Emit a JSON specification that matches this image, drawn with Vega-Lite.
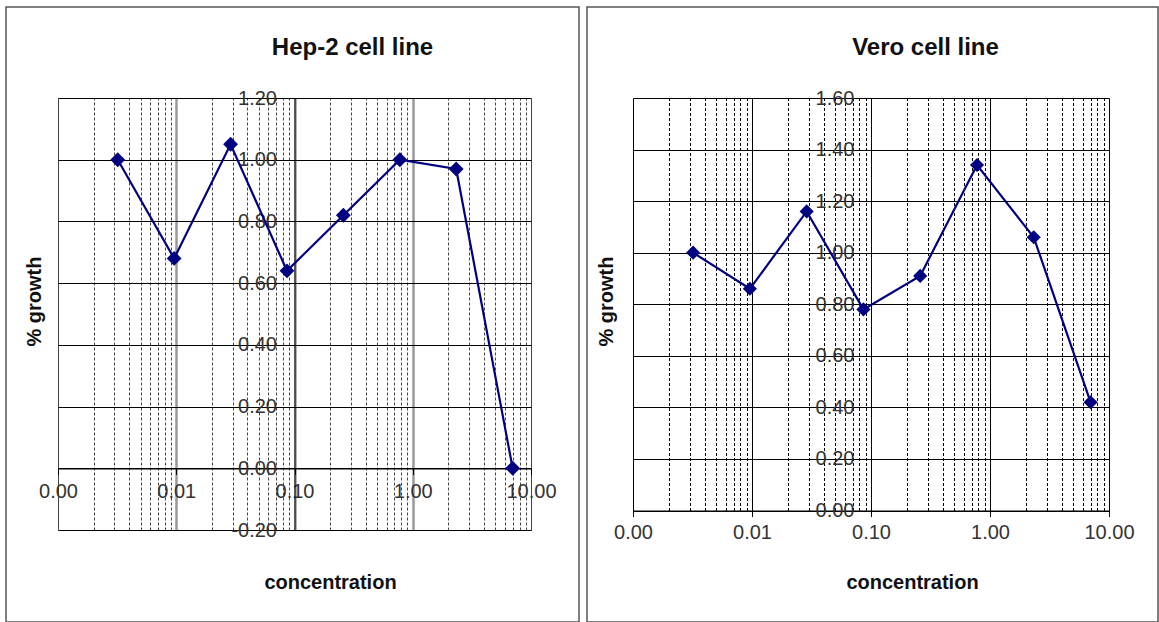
{
  "$schema": "https://vega.github.io/schema/vega-lite/v6.json",
  "background": "white",
  "padding": {"left": 5, "top": 6, "right": 0, "bottom": 0},
  "spacing": 6,
  "config": {
    "font": "Liberation Sans",
    "axis": {
      "labelFont": "Liberation Sans",
      "titleFont": "Liberation Sans",
      "labelFontSize": 20,
      "labelColor": "#333333",
      "titleFontSize": 20,
      "titleFontWeight": "bold",
      "titleColor": "#111111",
      "titleAlign": "center",
      "titleBaseline": "middle",
      "domainColor": "#000000",
      "domainWidth": 1,
      "tickColor": "#000000",
      "labelOverlap": false,
      "labelFlush": false
    },
    "title": {"font": "Liberation Sans", "fontSize": 24, "fontWeight": "bold", "color": "#111111"}
  },
  "hconcat": [
    {
      "width": 573,
      "height": 615,
      "view": {"stroke": "#555555", "strokeWidth": 1.5},
      "title": {"text": "Hep-2 cell line", "anchor": "middle", "dx": 60, "offset": -53},
      "data": {
        "values": [
          {"concentration": 0.0032, "growth": 1.0},
          {"concentration": 0.0096, "growth": 0.68},
          {"concentration": 0.0288, "growth": 1.05},
          {"concentration": 0.0864, "growth": 0.64},
          {"concentration": 0.259, "growth": 0.82},
          {"concentration": 0.778, "growth": 1.0},
          {"concentration": 2.33, "growth": 0.97},
          {"concentration": 7.0, "growth": 0.0}
        ]
      },
      "resolve": {"axis": {"x": "independent"}},
      "encoding": {
        "y": {
          "field": "growth",
          "type": "quantitative",
          "scale": {"domain": [-0.2, 1.2], "range": [523, 91], "nice": false, "zero": false},
          "axis": {
            "title": "% growth",
            "values": [-0.2, 0, 0.2, 0.4, 0.6, 0.8, 1, 1.2],
            "labelExpr": "(datum.value < 0 ? '-' : '') + format(abs(datum.value), '.2f')",
            "offset": -288.5,
            "grid": true,
            "gridColor": "#000000",
            "gridWidth": 1,
            "ticks": false,
            "labelPadding": 18,
            "titleAngle": 270,
            "titleX": -260.5,
            "titleY": 294
          }
        }
      },
      "layer": [
        {
          "mark": {"type": "line", "color": "#000080", "strokeWidth": 2.2},
          "encoding": {
            "x": {
              "field": "concentration",
              "type": "quantitative",
              "scale": {"type": "log", "domain": [0.001, 10], "range": [52, 525]},
              "axis": {
                "orient": "top",
                "title": null,
                "labels": false,
                "ticks": false,
                "domain": false,
                "values": [0.001, 0.002, 0.003, 0.004, 0.005, 0.006, 0.007, 0.008, 0.009, 0.01, 0.02, 0.03, 0.04, 0.05, 0.06, 0.07, 0.08, 0.09, 0.1, 0.2, 0.3, 0.4, 0.5, 0.6, 0.7, 0.8, 0.9, 1, 2, 3, 4, 5, 6, 7, 8, 9, 10],
                "grid": true,
                "gridColor": {"condition": {"test": "indexof([0.01, 0.1, 1], datum.value) >= 0", "value": "#9a9a9a"}, "value": "#444444"},
                "gridWidth": {"condition": {"test": "indexof([0.01, 0.1, 1], datum.value) >= 0", "value": 2.5}, "value": 1},
                "gridDash": {"condition": {"test": "indexof([0.001, 0.01, 0.1, 1, 10], datum.value) >= 0", "value": []}, "value": [3, 2]}
              }
            }
          }
        },
        {
          "mark": {"type": "point", "shape": "diamond", "filled": true, "size": 220, "color": "#000080", "opacity": 1},
          "encoding": {
            "x": {
              "field": "concentration",
              "type": "quantitative",
              "axis": {
                "orient": "bottom",
                "title": "concentration",
                "values": [0.001, 0.01, 0.1, 1, 10],
                "format": ".2f",
                "offset": -153.5,
                "grid": false,
                "ticks": true,
                "tickSize": 6,
                "labelPadding": 7,
                "titleX": 324,
                "titleY": 113.5
              }
            }
          }
        }
      ]
    },
    {
      "width": 571,
      "height": 615,
      "view": {"stroke": "#555555", "strokeWidth": 1.5},
      "title": {"text": "Vero cell line", "anchor": "middle", "dx": 53, "offset": -53},
      "data": {
        "values": [
          {"concentration": 0.0032, "growth": 1.0},
          {"concentration": 0.0096, "growth": 0.86},
          {"concentration": 0.0288, "growth": 1.16},
          {"concentration": 0.0864, "growth": 0.78},
          {"concentration": 0.259, "growth": 0.91},
          {"concentration": 0.778, "growth": 1.34},
          {"concentration": 2.33, "growth": 1.06},
          {"concentration": 7.0, "growth": 0.42}
        ]
      },
      "resolve": {"axis": {"x": "independent"}},
      "encoding": {
        "y": {
          "field": "growth",
          "type": "quantitative",
          "scale": {"domain": [0, 1.6], "range": [503.5, 91], "nice": false, "zero": false},
          "axis": {
            "title": "% growth",
            "values": [0, 0.2, 0.4, 0.6, 0.8, 1, 1.2, 1.4, 1.6],
            "format": ".2f",
            "offset": -284,
            "grid": true,
            "gridColor": "#000000",
            "gridWidth": 1,
            "ticks": false,
            "labelPadding": 17,
            "titleAngle": 270,
            "titleX": -265,
            "titleY": 294
          }
        }
      },
      "layer": [
        {
          "mark": {"type": "line", "color": "#000080", "strokeWidth": 2.2},
          "encoding": {
            "x": {
              "field": "concentration",
              "type": "quantitative",
              "scale": {"type": "log", "domain": [0.001, 10], "range": [46, 522]},
              "axis": {
                "orient": "top",
                "title": null,
                "labels": false,
                "ticks": false,
                "domain": false,
                "values": [0.001, 0.002, 0.003, 0.004, 0.005, 0.006, 0.007, 0.008, 0.009, 0.01, 0.02, 0.03, 0.04, 0.05, 0.06, 0.07, 0.08, 0.09, 0.1, 0.2, 0.3, 0.4, 0.5, 0.6, 0.7, 0.8, 0.9, 1, 2, 3, 4, 5, 6, 7, 8, 9, 10],
                "grid": true,
                "gridColor": "#000000",
                "gridWidth": 1,
                "gridDash": {"condition": {"test": "indexof([0.001, 0.01, 0.1, 1, 10], datum.value) >= 0", "value": []}, "value": [3, 2]}
              }
            }
          }
        },
        {
          "mark": {"type": "point", "shape": "diamond", "filled": true, "size": 200, "color": "#000080", "opacity": 1},
          "encoding": {
            "x": {
              "field": "concentration",
              "type": "quantitative",
              "axis": {
                "orient": "bottom",
                "title": "concentration",
                "values": [0.001, 0.01, 0.1, 1, 10],
                "format": ".2f",
                "offset": -111.5,
                "grid": false,
                "ticks": true,
                "tickSize": 6,
                "labelPadding": 6,
                "titleX": 325,
                "titleY": 71.5
              }
            }
          }
        }
      ]
    }
  ]
}
